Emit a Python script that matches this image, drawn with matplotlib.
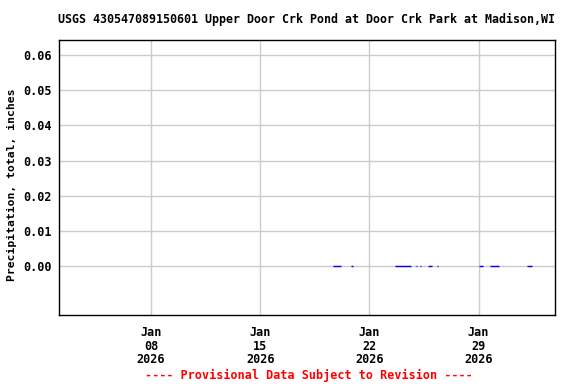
import matplotlib
matplotlib.use("Agg")
import matplotlib.pyplot as plt
import numpy as np
from datetime import datetime, timedelta

# ── Data: runs of recorded 0.00 in values (start, end in fractional January days) ──
RUN_START = [19.67, 20.82, 22.20, 23.64, 24.99, 25.24, 25.76, 26.33, 27.80, 29.03, 29.73, 32.10]
RUN_END   = [20.18, 20.95, 22.26, 24.67, 25.03, 25.28, 26.01, 26.37, 27.84, 29.28, 30.31, 32.42]
RUN_VALUE = [0.00] * len(RUN_START)

TICK_DAYS = [8, 15, 22, 29]
YTICKS = [0.00, 0.01, 0.02, 0.03, 0.04, 0.05, 0.06]

TITLE = "USGS 430547089150601 Upper Door Crk Pond at Door Crk Park at Madison,WI"
YLABEL = "Precipitation, total, inches"
FOOTER = "---- Provisional Data Subject to Revision ----"


def jan(d):
    return datetime(2026, 1, 1) + timedelta(days=d - 1)


plt.rcParams.update({
    "font.family": "DejaVu Sans Mono",
    "font.weight": "bold",
    "font.size": 8.5,
})

fig = plt.figure(figsize=(5.76, 3.84), dpi=100)
ax = fig.add_axes([59 / 576, 1 - 315 / 384, (555 - 59) / 576, (315 - 40) / 384])

xs, ys = [], []
for s, e, v in zip(RUN_START, RUN_END, RUN_VALUE):
    xs += [jan(s), jan(e), jan(e)]
    ys += [v, v, np.nan]
ax.plot(xs, ys, color="#0000FF", linewidth=1.0, solid_capstyle="butt", zorder=3)

ax.set_xlim(jan(2.1), jan(33.9))
ax.set_ylim(-0.0139, 0.0643)
ax.set_yticks(YTICKS)
ax.set_yticklabels([f"{v:.2f}" for v in YTICKS], fontweight="bold")
ax.set_xticks([jan(d) for d in TICK_DAYS])
ax.set_xticklabels([f"Jan\n{d:02d}\n2026" for d in TICK_DAYS], fontweight="bold",
                   linespacing=1.05)

ax.grid(True, color="#CCCCCC", linewidth=1.0)
ax.set_axisbelow(True)
ax.tick_params(axis="y", length=0, pad=5)
ax.tick_params(axis="x", length=0, pad=8)
for sp in ax.spines.values():
    sp.set_linewidth(1.0)
    sp.set_color("black")

fig.text(12 / 576, 1 - 185 / 384, YLABEL, rotation=90, ha="center", va="center",
         fontsize=8.2, fontweight="bold")
fig.text(306 / 576, 1 - 19 / 384, TITLE, ha="center", va="center",
         fontsize=8.4, fontweight="bold")
fig.text(309 / 576, 1 - 375 / 384, FOOTER, ha="center", va="center",
         fontsize=8.5, fontweight="bold", color="red")

fig.savefig("out.png", dpi=100)
